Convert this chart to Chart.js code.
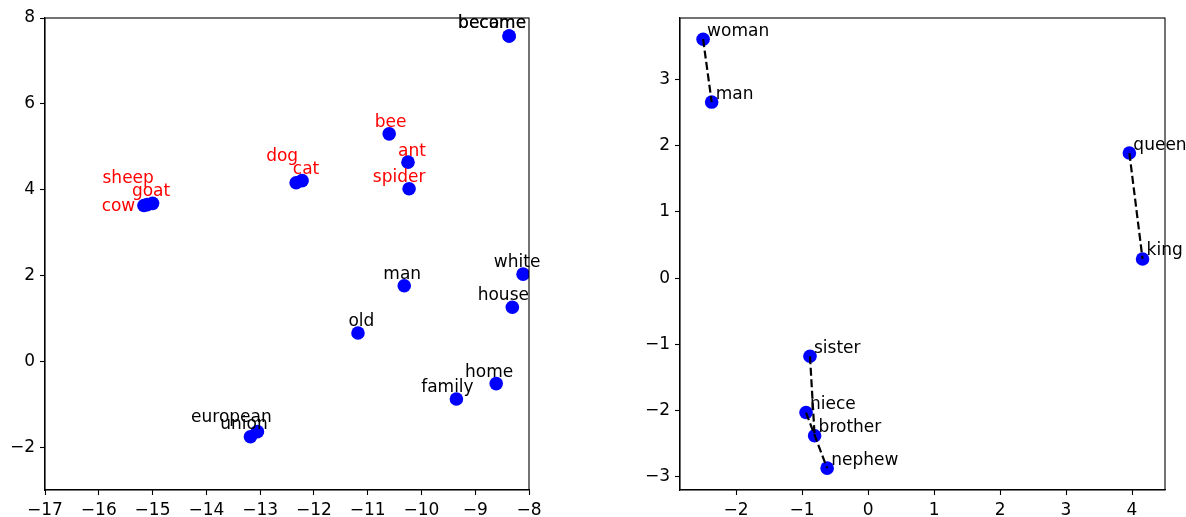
<!DOCTYPE html>
<html>
<head>
<meta charset="utf-8">
<script src="https://cdn.jsdelivr.net/npm/chart.js@4.4.1/dist/chart.umd.min.js"></script>
<style>
  html, body { margin: 0; padding: 0; background: #fff; }
  #page { position: relative; width: 1186px; height: 517px; }
  .box { position: absolute; top: 0; height: 517px; }
  #boxLeft { left: 0; width: 560px; }
  #boxRight { left: 620px; width: 566px; }
</style>
</head>
<body>
<div id="page">
  <div class="box" id="boxLeft"><canvas id="chartLeft"></canvas></div>
  <div class="box" id="boxRight"><canvas id="chartRight"></canvas></div>
</div>
<script>
// left panel: word embedding (2d projection)
const leftWords = ["became", "become", "bee", "ant", "spider", "dog", "cat", "sheep", "goat", "cow",
  "white", "man", "house", "old", "home", "family", "european", "union"];
const leftX = [-8.37, -8.37, -10.60, -10.25, -10.23, -12.33, -12.22, -15.10, -15.00, -15.16,
  -8.11, -10.32, -8.31, -11.18, -8.61, -9.35, -13.05, -13.18];
const leftY = [7.58, 7.58, 5.30, 4.64, 4.02, 4.16, 4.21, 3.65, 3.68, 3.63,
  2.03, 1.76, 1.26, 0.66, -0.52, -0.88, -1.64, -1.76];
const leftIsAnimal = [false, false, true, true, true, true, true, true, true, true,
  false, false, false, false, false, false, false, false];
const leftXTicks = [-17, -16, -15, -14, -13, -12, -11, -10, -9, -8];
const leftYTicks = [-2, 0, 2, 4, 6, 8];

// right panel: gender pairs
const rightWords = ["woman", "man", "queen", "king", "sister", "niece", "brother", "nephew"];
const rightX = [-2.50, -2.37, 3.96, 4.16, -0.88, -0.94, -0.81, -0.62];
const rightY = [3.61, 2.66, 1.89, 0.29, -1.18, -2.03, -2.38, -2.87];
const rightPairs = [["woman", "man"], ["queen", "king"], ["sister", "brother"], ["niece", "nephew"]];
const rightXTicks = [-2, -1, 0, 1, 2, 3, 4];
const rightYTicks = [-3, -2, -1, 0, 1, 2, 3];

const FONT = "'DejaVu Sans', sans-serif";
const FS = 17;

// text offsets (px) so labels sit where they sit in the picture
const leftLabelPos = {
  became: [-17, -8], become: [-17, -8], bee: [1.5, -7], ant: [4, -6.5], spider: [-10, -7],
  dog: [-14, -22], cat: [4, -7], sheep: [-19, -22], goat: [-1.5, -7.5], cow: [-25.5, 5.5],
  white: [-6, -7], man: [-2, -6.5], house: [-9, -7], old: [3.4, -7], home: [-7, -7],
  family: [-9, -7], european: [-26, -10], union: [-6.5, -8]
};

const frame = {
  id: "frame",
  afterDraw(chart) {
    const a = chart.chartArea;
    const ctx = chart.ctx;
    ctx.save();
    ctx.strokeStyle = "#000";
    ctx.lineWidth = 1.1;
    ctx.strokeRect(a.left, a.top, a.right - a.left, a.bottom - a.top);
    ctx.restore();
  }
};

const wordLabels = {
  id: "wordLabels",
  afterDraw(chart, args, opts) {
    const ctx = chart.ctx;
    const meta = chart.getDatasetMeta(opts.datasetIndex);
    ctx.save();
    ctx.font = FS + "px " + FONT;
    ctx.textBaseline = "alphabetic";
    meta.data.forEach((pt, i) => {
      const w = opts.words[i];
      if (opts.align === "left") {
        ctx.textAlign = "left";
        ctx.fillStyle = "#000";
        ctx.fillText(w, pt.x + 4, pt.y - 3.5);
      } else {
        const off = leftLabelPos[w] || [0, -7];
        ctx.textAlign = "center";
        ctx.fillStyle = opts.colors[i];
        ctx.fillText(w, pt.x + off[0], pt.y + off[1]);
      }
    });
    ctx.restore();
  }
};

function axis(min, max, ticks, isX, yWidth) {
  return {
    type: "linear",
    min: min,
    max: max,
    afterBuildTicks: s => { s.ticks = ticks.map(v => ({ value: v })); },
    afterFit: s => {
      if (isX) { s.height = 27; s.paddingLeft = 0; s.paddingRight = 0; }
      else { s.width = yWidth; s.paddingTop = 0; s.paddingBottom = 0; }
    },
    grid: { display: true, drawOnChartArea: false, drawTicks: true, tickLength: 5, tickColor: "#000", tickWidth: 1.1 },
    border: { display: true, color: "#000", width: 1.1 },
    ticks: {
      color: "#000",
      padding: 5,
      font: { family: FONT, size: FS },
      autoSkip: false,
      maxRotation: 0,
      callback: v => (v < 0 ? "\u2212" + Math.abs(v) : String(v))
    }
  };
}

function baseOptions(padding, xs, ys) {
  return {
    responsive: true,
    maintainAspectRatio: false,
    animation: false,
    layout: { padding: padding },
    plugins: { legend: { display: false }, tooltip: { enabled: false } },
    scales: { x: xs, y: ys }
  };
}

const dotStyle = {
  pointRadius: 6.8,
  pointHoverRadius: 6.8,
  pointBackgroundColor: "#0000ff",
  pointBorderColor: "#0000ff",
  pointBorderWidth: 0
};

// left chart
const leftChart = new Chart(document.getElementById("chartLeft").getContext("2d"), {
  type: "scatter",
  data: {
    datasets: [Object.assign({
      data: leftWords.map((w, i) => ({ x: leftX[i], y: leftY[i] }))
    }, dotStyle)]
  },
  options: baseOptions({ top: 18, right: 31, left: 0, bottom: 0 },
    axis(-17, -8, leftXTicks, true),
    axis(-3, 8, leftYTicks, false, 45)),
  plugins: [frame, wordLabels]
});
leftChart.options.plugins.wordLabels = {
  datasetIndex: 0,
  words: leftWords,
  colors: leftIsAnimal.map(a => (a ? "#ff0000" : "#000000")),
  align: "center"
};
leftChart.update();

// right chart
const idx = w => rightWords.indexOf(w);
const pairSets = rightPairs.map(p => ({
  type: "line",
  data: p.map(w => ({ x: rightX[idx(w)], y: rightY[idx(w)] })),
  borderColor: "#000",
  borderWidth: 2.2,
  borderDash: [8, 3.5],
  pointRadius: 0,
  fill: false,
  order: 0
}));

const rightChart = new Chart(document.getElementById("chartRight").getContext("2d"), {
  type: "scatter",
  data: {
    datasets: [Object.assign({
      data: rightWords.map((w, i) => ({ x: rightX[i], y: rightY[i] })),
      order: 1
    }, dotStyle)].concat(pairSets)
  },
  options: baseOptions({ top: 18, right: 21, left: 0, bottom: 0 },
    axis(-2.85, 4.5, rightXTicks, true),
    axis(-3.2, 3.93, rightYTicks, false, 60)),
  plugins: [frame, wordLabels]
});
rightChart.options.plugins.wordLabels = { datasetIndex: 0, words: rightWords, align: "left" };
rightChart.update();
</script>
</body>
</html>
